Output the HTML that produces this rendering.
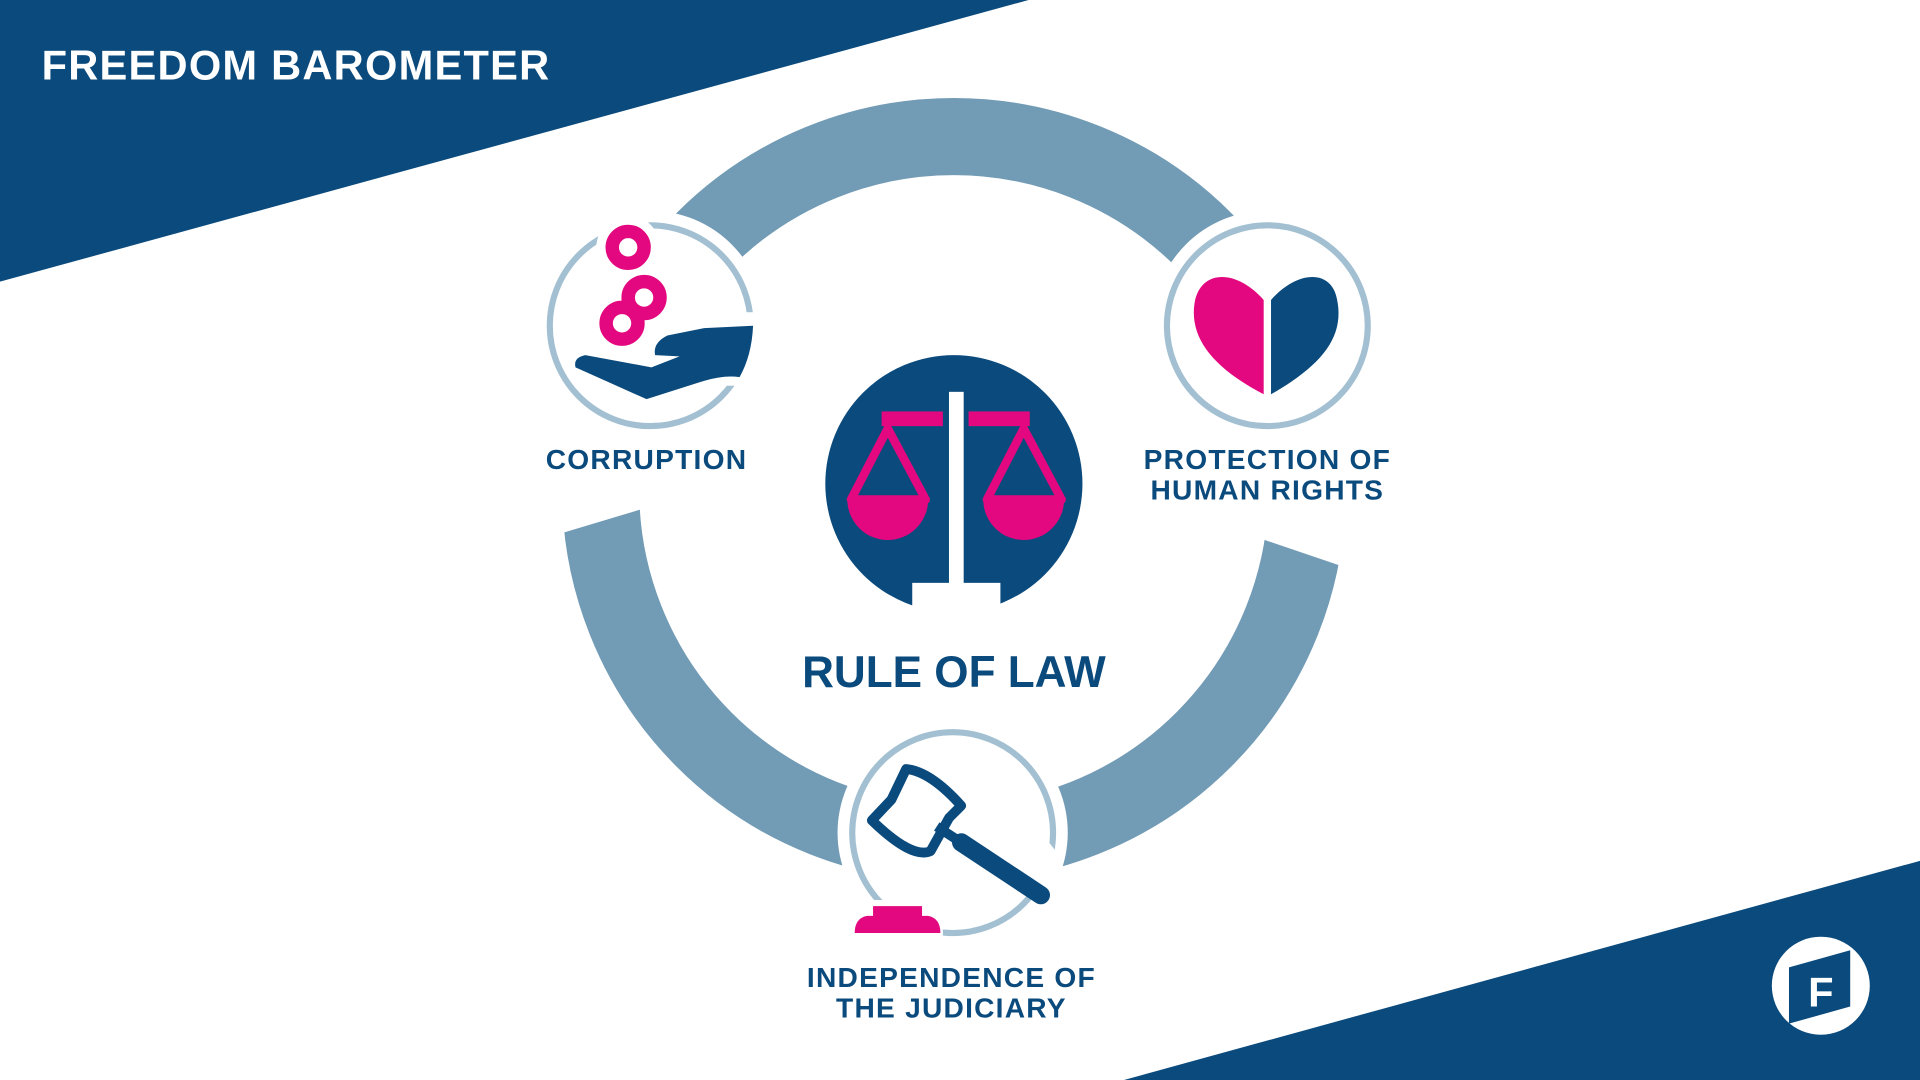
<!DOCTYPE html>
<html><head><meta charset="utf-8"><style>
html,body{margin:0;padding:0;background:#fff;width:1920px;height:1080px;overflow:hidden}
svg{display:block}
text{font-family:"Liberation Sans",sans-serif;font-weight:bold}
</style></head><body>
<svg width="1920" height="1080" viewBox="0 0 1568 882" xmlns="http://www.w3.org/2000/svg">
<rect width="1568" height="882" fill="#fff"/>
<polygon points="0,0 840,0 0,230" fill="#0b4a7c"/>
<polygon points="1568,703 1568,882 918,882" fill="#0b4a7c"/>
<text x="34" y="65" fill="#fff" font-size="34" letter-spacing="1">FREEDOM BAROMETER</text>

<circle cx="779" cy="400" r="288.5" fill="none" stroke="#729bb5" stroke-width="63"/>
<polygon points="420,250 620,250 620,387 420,447" fill="#fff"/>
<polygon points="930,250 1130,250 1130,474 930,406" fill="#fff"/>
<circle cx="531" cy="266" r="94" fill="#fff"/>
<circle cx="1035" cy="266" r="94" fill="#fff"/>
<circle cx="778" cy="680" r="94" fill="#fff"/>

<circle cx="531" cy="266" r="82" fill="none" stroke="#a3c0d2" stroke-width="5"/>
<circle cx="513" cy="202" r="26" fill="#fff"/>
<rect x="590" y="255" width="40" height="60" fill="#fff"/>
<path d="M470,300 L528,326 L575,311 Q592,306 604,308 Q614,290 615,266 L575,268 L545,274 Q533,280 535,290 L555,291 L532,300 L478,290 Q468,292 470,300 Z" fill="#0b4a7c"/>
<g fill="none" stroke="#e3087f" stroke-width="11">
<circle cx="513" cy="202" r="13"/><circle cx="526" cy="243" r="13"/><circle cx="508" cy="264" r="13"/>
</g>
<text x="528" y="383" fill="#0b4a7c" font-size="23" text-anchor="middle" letter-spacing="1">CORRUPTION</text>

<circle cx="1035" cy="266" r="82" fill="none" stroke="#a3c0d2" stroke-width="5"/>
<path d="M1032,322 C990,300 970,275 976,245 C982,220 1010,220 1032,245 Z" fill="#e3087f"/>
<path d="M1038,322 C1080,298 1098,275 1092,245 C1088,220 1060,220 1038,245 Z" fill="#0b4a7c"/>
<text x="1035" y="383" fill="#0b4a7c" font-size="23" text-anchor="middle" letter-spacing="1">PROTECTION OF</text>
<text x="1035" y="408" fill="#0b4a7c" font-size="23" text-anchor="middle" letter-spacing="1">HUMAN RIGHTS</text>

<circle cx="779" cy="395" r="105" fill="#0b4a7c"/>
<rect x="745" y="476" width="72" height="30" fill="#fff"/>
<rect x="775" y="320" width="12" height="160" fill="#fff"/>
<rect x="720" y="336" width="50" height="12" fill="#e3087f"/>
<rect x="791" y="336" width="50" height="12" fill="#e3087f"/>
<g fill="none" stroke="#e3087f" stroke-width="7" stroke-linejoin="round">
<polygon points="725,350 695,408 756,408"/><polygon points="836,350 806,408 867,408"/>
</g>
<path d="M692,408 A33,33 0 0 0 758,408 Z" fill="#e3087f"/>
<path d="M803,408 A33,33 0 0 0 869,408 Z" fill="#e3087f"/>
<text x="779" y="561" fill="#0b4a7c" font-size="36" text-anchor="middle" letter-spacing="0">RULE OF LAW</text>

<circle cx="778" cy="680" r="82" fill="none" stroke="#a3c0d2" stroke-width="5"/>
<rect x="700" y="735" width="70" height="40" fill="#fff"/>
<polygon points="835,660 866,700 860,740 820,720" fill="#fff"/>
<rect x="735" y="615" width="40" height="20" fill="#fff"/>
<line x1="785" y1="688" x2="850" y2="731" stroke="#0b4a7c" stroke-width="15" stroke-linecap="round"/>
<line x1="765" y1="675" x2="785" y2="688" stroke="#0b4a7c" stroke-width="8"/>
<path d="M740,628 Q760,630 785,658 L775,668 L760,695 Q745,702 712,670 L728,653 Z" fill="none" stroke="#0b4a7c" stroke-width="8" stroke-linejoin="round"/>
<path d="M713,740 h40 v8 h5 q10,2 10,14 h-70 q0,-12 10,-14 h5 Z" fill="#e3087f"/>
<text x="777" y="806" fill="#0b4a7c" font-size="23" text-anchor="middle" letter-spacing="1">INDEPENDENCE OF</text>
<text x="777" y="831" fill="#0b4a7c" font-size="23" text-anchor="middle" letter-spacing="1">THE JUDICIARY</text>

<circle cx="1487" cy="805" r="40" fill="#fff"/>
<polygon points="1461,790 1511,776 1511,822 1461,836" fill="#0b4a7c"/>
<text x="1487" y="822" fill="#fff" font-size="34" text-anchor="middle">F</text>
</svg>
</body></html>
